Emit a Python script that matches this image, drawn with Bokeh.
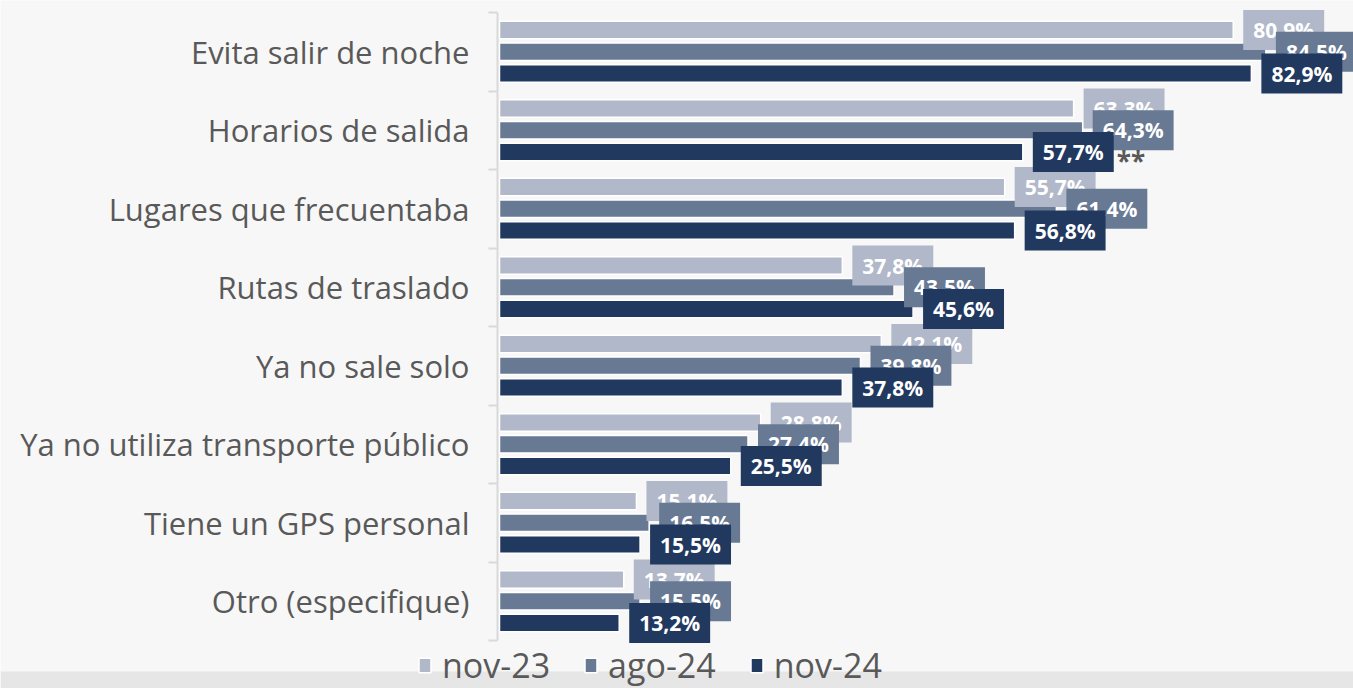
from bokeh.plotting import figure
from bokeh.models import FixedTicker, Legend, LegendItem, BoxAnnotation, Range1d
from bokeh.core.properties import value
from bokeh.embed import file_html
from bokeh.resources import INLINE

categories = ["Evita salir de noche", "Horarios de salida", "Lugares que frecuentaba",
              "Rutas de traslado", "Ya no sale solo", "Ya no utiliza transporte público",
              "Tiene un GPS personal", "Otro (especifique)"]
series_names = ["nov-23", "ago-24", "nov-24"]
nov23 = [80.9, 63.3, 55.7, 37.8, 42.1, 28.8, 15.1, 13.7]
ago24 = [84.5, 64.3, 61.4, 43.5, 39.8, 27.4, 16.5, 15.5]
nov24 = [82.9, 57.7, 56.8, 45.6, 37.8, 25.5, 15.5, 13.2]
nov23_labels = ["80.9%", "63.3%", "55,7%", "37,8%", "42.1%", "28.8%", "15.1%", "13.7%"]
ago24_labels = ["84.5%", "64,3%", "61.4%", "43.5%", "39.8%", "27.4%", "16.5%", "15.5%"]
nov24_labels = ["82,9%", "57,7%", "56,8%", "45,6%", "37,8%", "25,5%", "15,5%", "13,2%"]
note_category = "Horarios de salida"
note_text = "**"

colors = ["#b1b8c9", "#687994", "#21385f"]
FONT = "Open Sans"

n = len(categories)
centers = [n - 0.5 - i for i in range(n)]
off = 0.277
bar_h = 0.225
ys = [[c + off for c in centers], list(centers), [c - off for c in centers]]

p = figure(width=1353, height=688,
           x_range=Range1d(-55.02, 94.16), y_range=Range1d(-0.611, n + 0.153),
           x_axis_location=None, output_backend="svg", toolbar_location=None,
           min_border_left=0, min_border_right=0, min_border_top=0, min_border_bottom=0,
           background_fill_color="#f7f7f7", border_fill_color="#f7f7f7",
           outline_line_color=None)
p.grid.visible = False

band = BoxAnnotation(top=-0.395, fill_color="#e6e6e6", fill_alpha=1,
                     line_color=None, level="underlay")
p.add_layout(band)

ax = p.yaxis[0]
ax.fixed_location = -0.22
ax.bounds = (0, n)
ax.ticker = FixedTicker(ticks=centers, minor_ticks=list(range(0, n + 1)))
ax.major_label_overrides = {c: name for c, name in zip(centers, categories)}
ax.major_tick_line_color = None
ax.major_tick_out = 0
ax.major_tick_in = 0
ax.minor_tick_out = 9
ax.minor_tick_in = 0
ax.minor_tick_line_color = "#d9d9d9"
ax.minor_tick_line_width = 2
ax.axis_line_color = "#d9d9d9"
ax.axis_line_width = 2
ax.major_label_standoff = 19
ax.major_label_text_font = FONT
ax.major_label_text_font_size = "31px"
ax.major_label_text_color = "#595959"

series = [nov23, ago24, nov24]
labels = [nov23_labels, ago24_labels, nov24_labels]
renderers = []
for vals, y, col in zip(series, ys, colors):
    r = p.hbar(y=y, left=0, right=vals, height=bar_h, fill_color=col,
               line_color="white", line_width=1.5)
    renderers.append(r)

for vals, y, col, lab in zip(series, ys, colors, labels):
    p.text(x=vals, y=y, text=lab, x_offset=10, anchor="center_left",
           text_align="left", text_baseline="middle",
           text_font=value(FONT), text_font_style="bold", text_font_size="21px",
           text_color="white", background_fill_color=col, padding=(10, 6))

ni = categories.index(note_category)
p.text(x=[nov24[ni]], y=[ys[2][ni]], text=[note_text], x_offset=94, y_offset=9,
       text_align="left", text_baseline="middle", text_font=value(FONT),
       text_font_style="bold", text_font_size="26px", text_color="#595959")

legend = Legend(items=[LegendItem(label=nm, renderers=[r]) for nm, r in zip(series_names, renderers)],
                orientation="horizontal", location=(417, 0),
                label_text_font=FONT, label_text_font_size="34px", label_text_color="#595959",
                glyph_width=15, glyph_height=18, label_standoff=10, spacing=33,
                padding=0, margin=0, border_line_color=None, background_fill_alpha=0)
p.add_layout(legend)

open("out.html", "w").write(file_html(p, INLINE))
